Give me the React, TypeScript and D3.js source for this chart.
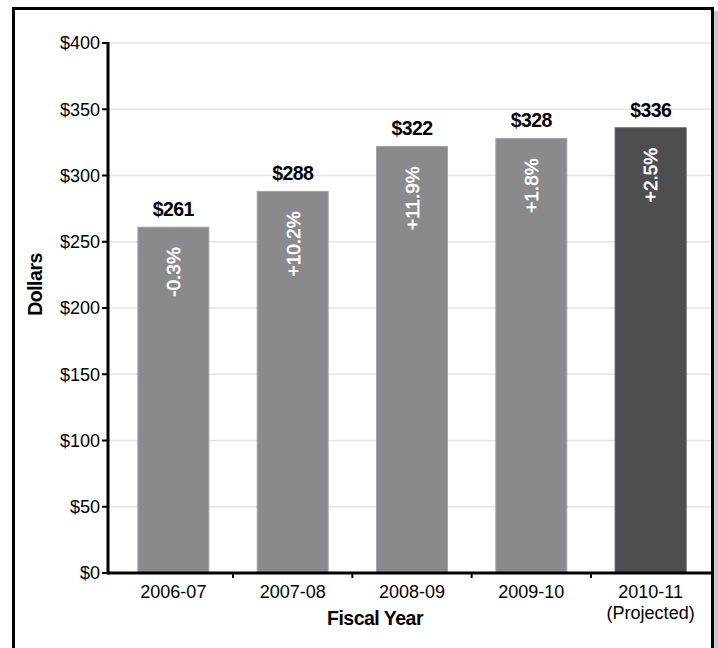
import React from "react";
import * as d3 from "d3";

const categories = ["2006-07", "2007-08", "2008-09", "2009-10", "2010-11"];
const subLabels = ["", "", "", "", "(Projected)"];
const values = [261, 288, 322, 328, 336];
const changeLabels = ["-0.3%", "+10.2%", "+11.9%", "+1.8%", "+2.5%"];
const projected = [false, false, false, false, true];
const yTicks = [0, 50, 100, 150, 200, 250, 300, 350, 400];

const W = 718;
const H = 648;
const FONT = "'Liberation Sans', Arial, Helvetica, sans-serif";

export default function App() {
  const x = d3.scaleBand<string>().domain(categories).range([114, 710]).paddingInner(0.405).paddingOuter(0.2);
  const y = d3.scaleLinear().domain([0, 400]).range([573, 43]);
  const step = x.step();
  const bw = x.bandwidth();
  const plotLeft = 108;
  const plotRight = 711;

  const boundaries = categories.slice(1).map((c) => (x(c) as number) - (step - bw) / 2);

  return (
    <svg
      width={W}
      height={H}
      style={{ position: "absolute", left: 0, top: 0, display: "block", background: "#fff" }}
      fontFamily={FONT}
    >
      {/* drop shadow + frame */}
      <rect x={714} y={11} width={4} height={H} fill="#c8c8c8" />
      <rect x={13.5} y={8.5} width={699} height={H + 10} fill="none" stroke="#000" strokeWidth={3} />

      {/* gridlines */}
      {yTicks.filter((t) => t > 0).map((t) => (
        <line key={"g" + t} x1={plotLeft} x2={plotRight} y1={y(t)} y2={y(t)} stroke="#e4e4e4" strokeWidth={1.5} />
      ))}

      {/* bars */}
      {categories.map((c, i) => (
        <rect
          key={"b" + c}
          x={x(c)}
          y={y(values[i])}
          width={bw}
          height={y(0) - y(values[i])}
          fill={projected[i] ? "#4e4e50" : "#8a8a8c"}
          stroke={projected[i] ? "#5a5a5c" : "#a4a4a6"}
          strokeWidth={1}
        />
      ))}

      {/* value labels */}
      {categories.map((c, i) => (
        <text
          key={"v" + c}
          x={(x(c) as number) + bw / 2}
          y={y(values[i]) - 11}
          textAnchor="middle"
          fontSize={19.5}
          fontWeight="bold"
          letterSpacing={-0.6}
          fill="#000"
        >
          {"$" + values[i]}
        </text>
      ))}

      {/* change labels inside bars */}
      {categories.map((c, i) => {
        const cx = (x(c) as number) + bw / 2;
        const ty = y(values[i]) + 20;
        return (
          <text
            key={"p" + c}
            transform={`translate(${cx},${ty}) rotate(-90)`}
            textAnchor="end"
            dy="0.36em"
            fontSize={19}
            fill="#fff"
            stroke="#fff"
            strokeWidth={0.6}
          >
            {changeLabels[i]}
          </text>
        );
      })}

      {/* y axis */}
      <line x1={plotLeft} x2={plotLeft} y1={y(400) - 1} y2={y(0) + 1.5} stroke="#000" strokeWidth={3} />
      {yTicks.map((t) => (
        <g key={"yt" + t}>
          <line x1={plotLeft - 6} x2={plotLeft} y1={y(t)} y2={y(t)} stroke="#000" strokeWidth={2} />
          <text x={plotLeft - 8} y={y(t)} dy="0.36em" textAnchor="end" fontSize={18} fill="#000">
            {"$" + t}
          </text>
        </g>
      ))}

      {/* x axis */}
      <line x1={plotLeft} x2={plotRight} y1={y(0)} y2={y(0)} stroke="#000" strokeWidth={3} />
      {boundaries.map((bx, i) => (
        <line key={"xt" + i} x1={bx} x2={bx} y1={y(0)} y2={y(0) + 5} stroke="#000" strokeWidth={2} />
      ))}
      {categories.map((c, i) => (
        <text key={"xl" + c} x={(x(c) as number) + bw / 2} y={598} textAnchor="middle" fontSize={18} fill="#000">
          <tspan x={(x(c) as number) + bw / 2}>{c}</tspan>
          {subLabels[i] && (
            <tspan x={(x(c) as number) + bw / 2} dy={21}>
              {subLabels[i]}
            </tspan>
          )}
        </text>
      ))}

      {/* axis titles */}
      <text x={375} y={625} textAnchor="middle" fontSize={19.5} fontWeight="bold" letterSpacing={-0.5} fill="#000">
        Fiscal Year
      </text>
      <text
        transform="translate(35,284.5) rotate(-90)"
        textAnchor="middle"
        dy="0.36em"
        fontSize={19.5}
        fontWeight="bold"
        letterSpacing={-0.5}
        fill="#000"
      >
        Dollars
      </text>
    </svg>
  );
}
